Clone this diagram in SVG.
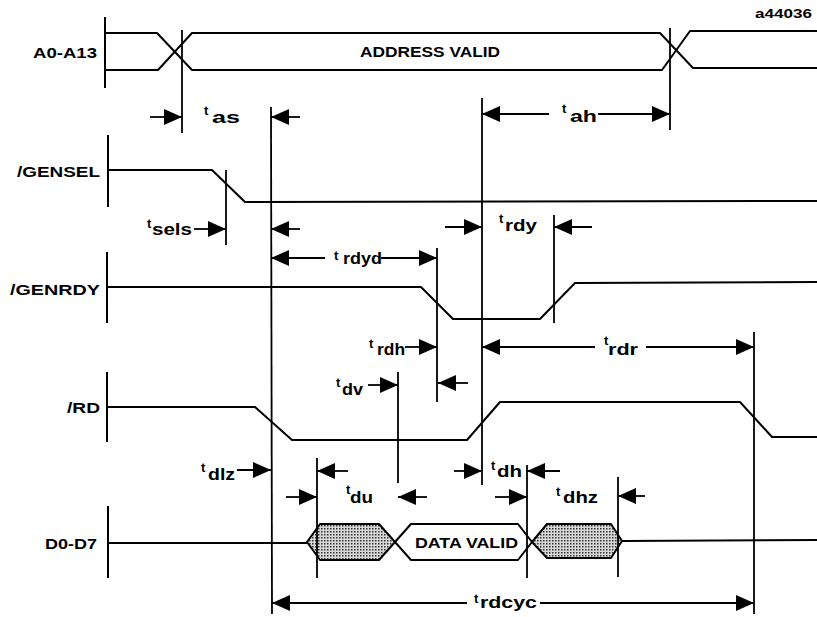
<svg xmlns="http://www.w3.org/2000/svg" width="817" height="617" viewBox="0 0 817 617">
<style>
.sig{fill:none;stroke:#000;stroke-width:2;stroke-linejoin:round}
.bar{stroke:#000;stroke-width:2}
.v{stroke:#000;stroke-width:1.8}
.arr{stroke:#000;stroke-width:1.8;marker-end:url(#ah)}
text{font-family:"Liberation Sans",Arial,sans-serif;font-weight:bold;fill:#000}
.lbl{font-size:15px}
.t{font-size:13px}
.sub{font-size:17px}
</style>
<defs>
<marker id="ah" markerUnits="userSpaceOnUse" markerWidth="19" markerHeight="16" refX="18" refY="8" orient="auto">
<path d="M0,0 L18,8 L0,16 z" fill="#000"/>
</marker>
<pattern id="dots" width="3" height="3" patternUnits="userSpaceOnUse">
<rect width="3" height="3" fill="#d8d8d8"/>
<rect width="1.5" height="1.5" fill="#333"/>
</pattern>
</defs>
<rect width="817" height="617" fill="#fff"/>
<text x="812" y="18" font-size="12" text-anchor="end" textLength="57" lengthAdjust="spacingAndGlyphs">a44036</text>

<g id="A0-A13">
<line class="bar" x1="105" y1="17" x2="105" y2="88"/>
<text class="lbl" x="33" y="58" textLength="64" lengthAdjust="spacingAndGlyphs">A0-A13</text>
<polyline class="sig" points="105,33 157,33 192,70 662,70 690,31 817,31"/>
<polyline class="sig" points="105,70 158,70 192,33 660,33 693,68 817,68"/>
<text class="lbl" x="360" y="57" font-size="14" textLength="140" lengthAdjust="spacingAndGlyphs">ADDRESS VALID</text>
</g>

<g id="GENSEL">
<line class="bar" x1="108" y1="135" x2="108" y2="207"/>
<text class="lbl" x="17" y="177" textLength="83" lengthAdjust="spacingAndGlyphs">/GENSEL</text>
<polyline class="sig" points="108,170 212,170 245,202 817,201"/>
</g>

<g id="GENRDY">
<line class="bar" x1="107" y1="252" x2="107" y2="323"/>
<text class="lbl" x="10" y="295" textLength="90" lengthAdjust="spacingAndGlyphs">/GENRDY</text>
<polyline class="sig" points="107,287 421,287 453,319 540,319 575,283 817,282"/>
</g>

<g id="RD">
<line class="bar" x1="107" y1="372" x2="107" y2="442"/>
<text class="lbl" x="67" y="413" textLength="33" lengthAdjust="spacingAndGlyphs">/RD</text>
<polyline class="sig" points="107,407 255,407 292,440 467,440 500,402 740,402 772,437 817,437"/>
</g>

<g id="D0-D7">
<line class="bar" x1="108" y1="506" x2="108" y2="578"/>
<text class="lbl" x="45" y="549" textLength="52" lengthAdjust="spacingAndGlyphs">D0-D7</text>
<line class="sig" x1="108" y1="543" x2="307" y2="543"/>
<polygon points="307,542 320,524 379,524 395,542 379,560 320,560" fill="url(#dots)" stroke="#000" stroke-width="2" stroke-linejoin="round"/>
<polygon points="395,542 411,524 518,524 532,542 518,560 411,560" fill="#fff" stroke="#000" stroke-width="2" stroke-linejoin="round"/>
<text class="lbl" x="415" y="548" textLength="103" lengthAdjust="spacingAndGlyphs">DATA VALID</text>
<polygon points="532,542 547,524 611,524 622,541 611,558 547,558" fill="url(#dots)" stroke="#000" stroke-width="2" stroke-linejoin="round"/>
<line class="sig" x1="622" y1="541" x2="817" y2="540"/>
</g>

<g id="connectors">
<line class="v" x1="182" y1="30" x2="182" y2="133"/>
<line class="v" x1="670" y1="28" x2="670" y2="130"/>
<line class="v" x1="271" y1="107" x2="272" y2="614"/>
<line class="v" x1="482" y1="98" x2="482" y2="485"/>
<line class="v" x1="226" y1="170" x2="226" y2="245"/>
<line class="v" x1="437" y1="248" x2="437" y2="402"/>
<line class="v" x1="554" y1="215" x2="554" y2="323"/>
<line class="v" x1="398" y1="372" x2="398" y2="483"/>
<line class="v" x1="317" y1="458" x2="317" y2="578"/>
<line class="v" x1="527" y1="465" x2="527" y2="578"/>
<line class="v" x1="618" y1="477" x2="618" y2="577"/>
<line class="v" x1="754" y1="332" x2="754" y2="614"/>

<line class="arr" x1="150" y1="117" x2="182" y2="117"/>
<line class="arr" x1="300" y1="117" x2="271" y2="117"/>
<line class="arr" x1="549" y1="114" x2="482" y2="114"/>
<line class="arr" x1="598" y1="114" x2="670" y2="114"/>
<line class="arr" x1="194" y1="229" x2="226" y2="229"/>
<line class="arr" x1="300" y1="229" x2="271" y2="229"/>
<line class="arr" x1="325" y1="258" x2="271" y2="258"/>
<line class="arr" x1="381" y1="258" x2="437" y2="258"/>
<line class="arr" x1="445" y1="227" x2="482" y2="227"/>
<line class="arr" x1="592" y1="227" x2="554" y2="227"/>
<line class="arr" x1="405" y1="347" x2="437" y2="347"/>
<line class="arr" x1="468" y1="383" x2="438" y2="383"/>
<line class="arr" x1="595" y1="347" x2="482" y2="347"/>
<line class="arr" x1="646" y1="347" x2="754" y2="347"/>
<line class="arr" x1="368" y1="385" x2="398" y2="385"/>
<line class="arr" x1="237" y1="470" x2="271" y2="470"/>
<line class="arr" x1="348" y1="471" x2="317" y2="471"/>
<line class="arr" x1="286" y1="497" x2="317" y2="497"/>
<line class="arr" x1="427" y1="497" x2="398" y2="497"/>
<line class="arr" x1="454" y1="471" x2="482" y2="471"/>
<line class="arr" x1="560" y1="471" x2="527" y2="471"/>
<line class="arr" x1="495" y1="497" x2="527" y2="497"/>
<line class="arr" x1="645" y1="496" x2="618" y2="496"/>
<line class="arr" x1="467" y1="603" x2="272" y2="603"/>
<line class="arr" x1="540" y1="603" x2="754" y2="603"/>

<text><tspan class="t" x="204" y="115">t</tspan><tspan class="sub" x="212" y="123" textLength="28" lengthAdjust="spacingAndGlyphs">as</tspan></text>
<text><tspan class="t" x="562" y="113">t</tspan><tspan class="sub" x="570" y="122" textLength="27" lengthAdjust="spacingAndGlyphs">ah</tspan></text>
<text><tspan class="t" x="147" y="228">t</tspan><tspan class="sub" x="152" y="235" textLength="40" lengthAdjust="spacingAndGlyphs">sels</tspan></text>
<text><tspan class="t" x="334" y="260">t</tspan><tspan class="sub" x="343" y="264" textLength="39" lengthAdjust="spacingAndGlyphs">rdyd</tspan></text>
<text><tspan class="t" x="499" y="223">t</tspan><tspan class="sub" x="505" y="231" textLength="32" lengthAdjust="spacingAndGlyphs">rdy</tspan></text>
<text><tspan class="t" x="369" y="348">t</tspan><tspan class="sub" x="377" y="355" textLength="28" lengthAdjust="spacingAndGlyphs">rdh</tspan></text>
<text><tspan class="t" x="604" y="345">t</tspan><tspan class="sub" x="608" y="355" textLength="30" lengthAdjust="spacingAndGlyphs">rdr</tspan></text>
<text><tspan class="t" x="336" y="387">t</tspan><tspan class="sub" x="342" y="395" textLength="21" lengthAdjust="spacingAndGlyphs">dv</tspan></text>
<text><tspan class="t" x="201" y="472">t</tspan><tspan class="sub" x="208" y="480" textLength="27" lengthAdjust="spacingAndGlyphs">dlz</tspan></text>
<text><tspan class="t" x="346" y="494">t</tspan><tspan class="sub" x="350" y="503" textLength="23" lengthAdjust="spacingAndGlyphs">du</tspan></text>
<text><tspan class="t" x="491" y="470">t</tspan><tspan class="sub" x="497" y="477" textLength="25" lengthAdjust="spacingAndGlyphs">dh</tspan></text>
<text><tspan class="t" x="556" y="496">t</tspan><tspan class="sub" x="563" y="503" textLength="35" lengthAdjust="spacingAndGlyphs">dhz</tspan></text>
<text><tspan class="t" x="474" y="603">t</tspan><tspan class="sub" x="480" y="608" textLength="57" lengthAdjust="spacingAndGlyphs">rdcyc</tspan></text>
</g>
</svg>
